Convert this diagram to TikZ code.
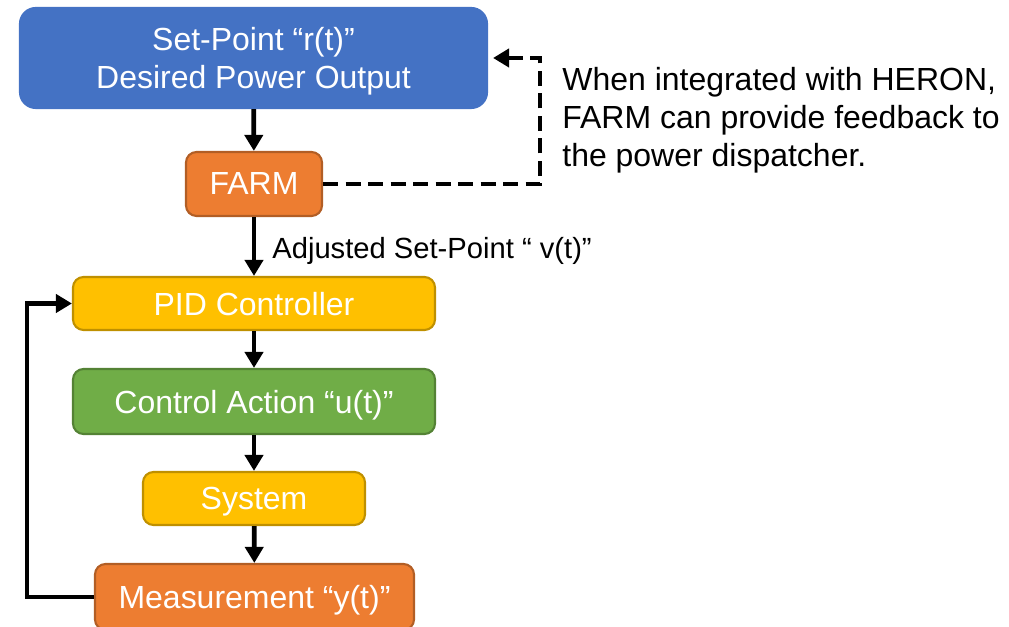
\documentclass[tikz,border=0pt]{standalone}
\usepackage{fontspec}
\setmainfont{Liberation Sans}
\usetikzlibrary{arrows.meta}
\definecolor{spblue}{HTML}{4472C4}
\definecolor{farmor}{HTML}{ED7D31}
\definecolor{pidgold}{HTML}{FFC000}
\definecolor{actgreen}{HTML}{70AD47}
\begin{document}
\begin{tikzpicture}[every node/.style={font=\fontsize{18.2}{21.7}\selectfont},
  box/.style={draw,line width=1.2pt,rounded corners=6pt,text=white,inner sep=0pt,align=center,text depth=0pt},
  arr/.style={-{Triangle[length=0.32cm,width=0.36cm]},line width=2.7pt}]
\useasboundingbox (0,0) rectangle (20.18,12.54);
\node[box,fill=spblue,draw=spblue,minimum width=9.34cm,minimum height=2cm,rounded corners=9pt] (sp) at (5.07,11.38) {Set-Point “r(t)”\\Desired Power Output};
\node[box,fill=farmor,draw=farmor!75!black,minimum width=2.72cm,minimum height=1.28cm] (farm) at (5.08,8.86) {FARM};
\node[box,fill=pidgold,draw=pidgold!75!black,minimum width=7.24cm,minimum height=1.06cm] (pid) at (5.08,6.47) {PID Controller};
\node[box,fill=actgreen,draw=actgreen!75!black,minimum width=7.24cm,minimum height=1.3cm] (act) at (5.08,4.51) {Control Action “u(t)”};
\node[box,fill=pidgold,draw=pidgold!75!black,minimum width=4.44cm,minimum height=1.06cm] (sys) at (5.08,2.57) {System};
\node[box,fill=farmor,draw=farmor!75!black,minimum width=6.38cm,minimum height=1.32cm] (meas) at (5.09,0.6) {Measurement “y(t)”};
% main chain
\draw[arr] (sp) -- (farm);
\draw[arr] (farm) -- (pid);
\draw[arr] (pid) -- (act);
\draw[arr] (act) -- (sys);
\draw[arr] (sys) -- (meas);
\node[anchor=west,inner sep=0pt,font=\fontsize{16.6}{20}\selectfont] (adj) at (5.44,7.53) {Adjusted Set-Point “ v(t)”};
% feedback loop
\coordinate (fb) at (0.54,0.6);
\draw[arr] (meas.west) -- (fb) |- (pid.west);
% HERON feedback
\coordinate (turn) at (10.8,8.86);
\draw[arr,dash pattern=on 0.3cm off 0.15cm] (farm.east) -- (turn) |- ([xshift=0.1cm]sp.east);
\node[anchor=west,align=left,inner sep=0pt,font=\fontsize{18.2}{21.6}\selectfont] (note) at (11.24,10.13) {When integrated with HERON,\\FARM can provide feedback to\\the power dispatcher.};
\end{tikzpicture}
\end{document}
